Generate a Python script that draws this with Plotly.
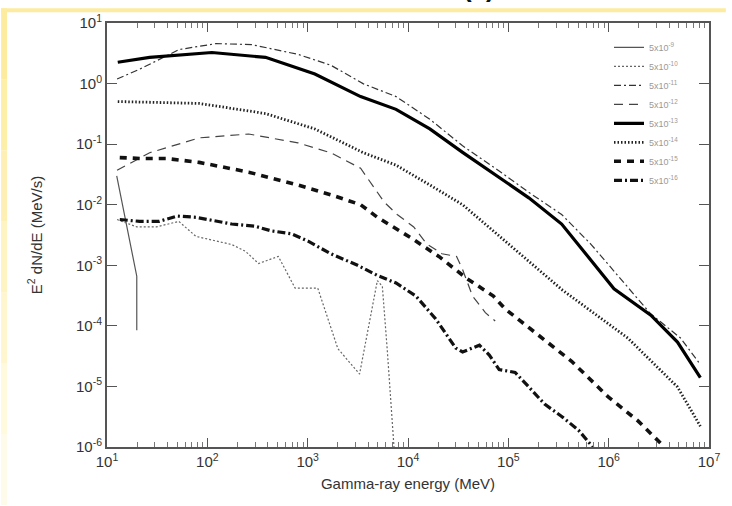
import plotly.graph_objects as go

# ---- data ----
labels = ["5x10<sup>-9</sup>", "5x10<sup>-10</sup>", "5x10<sup>-11</sup>", "5x10<sup>-12</sup>",
          "5x10<sup>-13</sup>", "5x10<sup>-14</sup>", "5x10<sup>-15</sup>", "5x10<sup>-16</sup>"]

e_s1 = [12.5, 15.5, 19.8, 19.8]
y_s1 = [3.0e-2, 5.0e-3, 6.6e-4, 8.5e-5]

e_s2 = [12.6, 19.8, 31, 52, 77, 104, 175, 240, 324, 510, 750, 1260, 2000, 3290, 4950, 5550, 6200, 7250, 7600]
y_s2 = [5.7e-3, 4.3e-3, 4.3e-3, 5.3e-3, 3.0e-3, 2.7e-3, 2.2e-3, 1.7e-3, 1.07e-3, 1.4e-3, 4.2e-4, 4.2e-4,
        4.2e-5, 1.6e-5, 5.6e-4, 4.5e-4, 4.2e-5, 1.0e-6, 5e-7]

e_s3 = [12.6, 21.2, 52.5, 122, 276, 804, 1700, 3600, 7600, 16500, 35000, 74000, 160000, 340000, 670000,
        2.6e6, 5.2e6, 8.2e6]
y_s3 = [1.19, 1.73, 3.65, 4.57, 4.4, 3.03, 2.01, 0.99, 0.61, 0.258, 0.094, 0.04, 0.016, 6.9e-3, 2.2e-3,
        1.6e-4, 6.3e-5, 2.3e-5]

e_s4 = [12.6, 26.6, 83, 258, 800, 1700, 3370, 5800, 7800, 11400, 15400, 21800, 30500, 35000, 44000, 59000, 74000]
y_s4 = [0.037, 0.072, 0.127, 0.147, 0.105, 0.072, 0.04, 0.011, 6.9e-3, 4.3e-3, 2.25e-3, 1.55e-3, 1.4e-3,
        8.5e-4, 3.1e-4, 1.65e-4, 1.2e-4]

e_s5 = [12.8, 26.6, 111, 380, 1180, 3370, 7600, 16500, 35000, 74000, 160000, 340000, 1.13e6, 2.63e6, 4.85e6, 8.2e6]
y_s5 = [2.25, 2.71, 3.26, 2.71, 1.44, 0.61, 0.375, 0.178, 0.073, 0.031, 0.013, 4.8e-3, 4.1e-4, 1.5e-4,
        5.4e-5, 1.4e-5]

e_s6 = [12.8, 83, 380, 1180, 3600, 7600, 16500, 35000, 102000, 346000, 1.55e6, 4.85e6, 8.2e6]
y_s6 = [0.505, 0.47, 0.32, 0.178, 0.072, 0.045, 0.0212, 0.01, 2.2e-3, 3.9e-4, 6.3e-5, 9.8e-6, 2.2e-6]

e_s7 = [13.4, 21.2, 39, 83, 258, 800, 1700, 3370, 4950, 10500, 20300, 38300, 71000, 93000, 200000, 427000,
        990000, 1.96e6, 3.3e6, 3.7e6]
y_s7 = [0.060, 0.058, 0.058, 0.050, 0.0345, 0.0212, 0.0146, 0.010, 6.2e-3, 2.9e-3, 1.4e-3, 6.1e-4, 3.1e-4,
        1.9e-4, 7e-5, 2.6e-5, 6.7e-6, 2.7e-6, 1.15e-6, 8e-7]

e_s8 = [13.4, 21.2, 33, 50, 77, 175, 300, 435, 690, 1010, 1700, 3140, 4950, 7600, 12000, 18900, 29900, 35000,
        51500, 64600, 81000, 117000, 160000, 230000, 340000, 500000, 670000, 750000]
y_s8 = [5.7e-3, 5.3e-3, 5.3e-3, 6.5e-3, 6.2e-3, 4.8e-3, 4.4e-3, 3.7e-3, 3.3e-3, 2.5e-3, 1.55e-3, 1.0e-3,
        6.8e-4, 5.1e-4, 3.1e-4, 1.3e-4, 4.3e-5, 3.7e-5, 4.8e-5, 3.3e-5, 1.9e-5, 1.7e-5, 9.8e-6, 5.1e-6,
        3.2e-6, 1.9e-6, 1.07e-6, 8e-7]

x_tickvals = [1e1, 1e2, 1e3, 1e4, 1e5, 1e6, 1e7]
x_ticktext = ["10<sup>1</sup>", "10<sup>2</sup>", "10<sup>3</sup>", "10<sup>4</sup>",
              "10<sup>5</sup>", "10<sup>6</sup>", "10<sup>7</sup>"]
y_tickvals = [1e1, 1e0, 1e-1, 1e-2, 1e-3, 1e-4, 1e-5, 1e-6]
y_ticktext = ["10<sup>1</sup>", "10<sup>0</sup>", "10<sup>-1</sup>", "10<sup>-2</sup>",
              "10<sup>-3</sup>", "10<sup>-4</sup>", "10<sup>-5</sup>", "10<sup>-6</sup>"]

series = [(e_s1, y_s1), (e_s2, y_s2), (e_s3, y_s3), (e_s4, y_s4),
          (e_s5, y_s5), (e_s6, y_s6), (e_s7, y_s7), (e_s8, y_s8)]

styles = [
    dict(color="#555555", width=1.2, dash="solid"),
    dict(color="#666666", width=1.2, dash="2px,2px"),
    dict(color="#333333", width=1.2, dash="7px,3px,2px,3px"),
    dict(color="#444444", width=1.2, dash="9px,6px"),
    dict(color="#000000", width=3.2, dash="solid"),
    dict(color="#222222", width=2.8, dash="1.5px,2px"),
    dict(color="#111111", width=3.6, dash="7px,6px"),
    dict(color="#111111", width=3.2, dash="8px,3px,2px,3px"),
]

fig = go.Figure()
for (ex, yy), lab, st in zip(series, labels, styles):
    fig.add_trace(go.Scatter(x=ex, y=yy, mode="lines", name=lab, line=st, cliponaxis=True))

FONT = "Liberation Sans, Arial, sans-serif"
axis_common = dict(
    type="log", showgrid=False, zeroline=False, showline=True, linecolor="#555555", linewidth=2,
    mirror="ticks", ticks="inside", tickcolor="#555555",
    tickfont=dict(family=FONT, size=15, color="#333333"),
)

fig.update_xaxes(**axis_common, range=[1, 7], tickmode="array", tickvals=x_tickvals, ticktext=x_ticktext,
                 ticklen=9, tickwidth=1.2,
                 minor=dict(ticks="inside", ticklen=5, tickcolor="#777777", dtick="D1", showgrid=False),
                 title=dict(text="Gamma-ray energy (MeV)", standoff=9,
                            font=dict(family=FONT, size=15, color="#333333")))
fig.update_yaxes(**axis_common, range=[-6, 1], tickmode="array", tickvals=y_tickvals, ticktext=y_ticktext,
                 ticklen=10, tickwidth=1.2,
                 title=dict(text="E<sup>2</sup> dN/dE (MeV/s)", standoff=30,
                            font=dict(family=FONT, size=15, color="#333333")))

# decorative yellow page border (paper coords: plot area spans px 107..715 x 15..447)
PL, PT, PW, PH = 107, 15, 608, 432
def px(xp):
    return (xp - PL) / PW
def py(yp):
    return (PT + PH - yp) / PH

shapes = []
band_cols = ["#fdeca0", "#fdeea8", "#fef0b4", "#fef3c2", "#fff6d0", "#fff9de", "#fffbea"]
n = len(band_cols)
for i, c in enumerate(band_cols):
    y_top = i * 506 / n
    y_bot = (i + 1) * 506 / n
    shapes.append(dict(type="rect", xref="paper", yref="paper", x0=px(0), x1=px(6),
                       y0=py(y_bot), y1=py(y_top), fillcolor=c, line=dict(width=0), layer="below"))
shapes.append(dict(type="rect", xref="paper", yref="paper", x0=px(0), x1=px(732),
                   y0=py(4), y1=py(0), fillcolor="#fdeca0", line=dict(width=0), layer="below"))

fig.update_layout(
    width=732, height=506,
    margin=dict(l=PL, r=732 - PL - PW, t=PT, b=506 - PT - PH),
    paper_bgcolor="white", plot_bgcolor="white",
    shapes=shapes,
    showlegend=True,
    legend=dict(x=px(614), y=py(25), xanchor="left", yanchor="top", bgcolor="rgba(0,0,0,0)",
                font=dict(family=FONT, size=9, color="#999999"),
                itemwidth=30, tracegroupgap=0),
    annotations=[dict(text="<b>(c)</b>", xref="paper", yref="paper", x=px(483), y=py(-3),
                      showarrow=False, font=dict(family=FONT, size=26, color="#111111"),
                      yanchor="bottom")],
)

fig.write_html("out.html", config={"displayModeBar": False},
               post_script="document.body.style.margin='0';document.body.style.overflow='hidden';")
